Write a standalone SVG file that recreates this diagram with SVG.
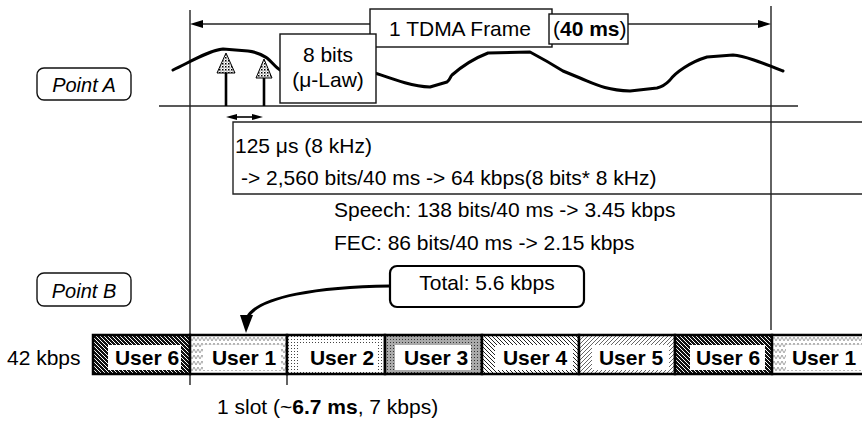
<svg xmlns="http://www.w3.org/2000/svg" width="862" height="421" viewBox="0 0 862 421">
<defs>
<style>
text{font-family:"Liberation Sans",Arial,Helvetica,sans-serif;fill:#000}
.t{font-size:21px}
.ti{font-size:20px;font-style:italic}
.tb{font-size:21px;font-weight:bold}
.ln{stroke:#222;stroke-width:1.4;fill:none}
.box{fill:#fff;stroke:#111;stroke-width:1.4}
.rbox{fill:#fff;stroke:#111;stroke-width:1.4}
.wave{fill:none;stroke:#000;stroke-width:3;stroke-linejoin:round;stroke-linecap:round}
.slot{stroke:#000;stroke-width:2.5}
.inner{fill:#fff;stroke:none}
</style>
<pattern id="pdot" width="3" height="3" patternUnits="userSpaceOnUse"><rect width="3" height="3" fill="#fff"/><rect width="1.5" height="1.5" fill="#000"/><rect x="1.5" y="1.5" width="1" height="1" fill="#555"/></pattern>
<pattern id="p6" width="4" height="4" patternUnits="userSpaceOnUse"><rect width="4" height="4" fill="#111"/><path d="M-1,-1 L5,5" stroke="#fff" stroke-width="1"/></pattern>
<pattern id="p1" width="8" height="6" patternUnits="userSpaceOnUse"><rect width="8" height="6" fill="#fff"/><polyline points="0,5 2,1 4,5 6,1 8,5" fill="none" stroke="#999" stroke-width="0.9"/></pattern>
<pattern id="p2" width="3" height="3" patternUnits="userSpaceOnUse"><rect width="3" height="3" fill="#fff"/><rect width="1" height="1" fill="#444"/></pattern>
<pattern id="p3" width="3" height="3" patternUnits="userSpaceOnUse"><rect width="3" height="3" fill="#aaa"/><rect width="1" height="1" fill="#333"/></pattern>
<pattern id="p4" width="4" height="4" patternUnits="userSpaceOnUse"><rect width="4" height="4" fill="#fff"/><path d="M-1,-1 L5,5 M3,-1 L5,1 M-1,3 L1,5" stroke="#222" stroke-width="1"/></pattern>
<pattern id="p5" width="4" height="4" patternUnits="userSpaceOnUse"><rect width="4" height="4" fill="#fff"/><path d="M-1,5 L5,-1 M-1,1 L1,-1 M3,5 L5,3" stroke="#666" stroke-width="1"/></pattern>
</defs>

<g id="connectors">
  <!-- vertical frame boundaries -->
  <line class="ln" x1="190" y1="10" x2="190" y2="385"/>
  <line class="ln" x1="771" y1="6" x2="771" y2="330"/>
  <line class="ln" x1="287" y1="374" x2="287" y2="385"/>
  <!-- baselines -->
  <line class="ln" x1="159" y1="106" x2="798" y2="106"/>
  <!-- frame arrow -->
  <line class="ln" x1="196" y1="24" x2="765" y2="24"/>
  <polygon points="190,24 203,20 203,28" fill="#000"/>
  <polygon points="771,24 758,20 758,28" fill="#000"/>
  <!-- waveform -->
  <path class="wave" d="M173,70 C190,62 210,50 223,49 L248,51 C258,52 262,55 267,58 C272,62 276,68 280,70"/>
  <path class="wave" d="M372,72 C390,78 410,86 430,87 L447,82 C450,80 450,77 452,75 C460,68 470,60 488,53 L530,52 C545,60 555,66 563,71 L580,78 C595,84 605,90 630,91 L657,88 C665,86 668,82 670,80 C675,73 690,62 707,57 L733,55 C745,56 760,62 783,71"/>
  <!-- sample arrows -->
  <line x1="226" y1="72" x2="226" y2="106" stroke="#000" stroke-width="2.6"/>
  <polygon points="226,53 217,73 235,73" fill="url(#pdot)" stroke="#000" stroke-width="1"/>
  <line x1="264" y1="77" x2="264" y2="106" stroke="#000" stroke-width="2.6"/>
  <polygon points="264,59 256,78 272,78" fill="url(#pdot)" stroke="#000" stroke-width="1"/>
  <!-- sample period double arrow -->
  <line x1="232" y1="117" x2="257" y2="117" stroke="#000" stroke-width="1.6"/>
  <polygon points="226,117 237,114 237,120" fill="#000"/>
  <polygon points="263,117 252,114 252,120" fill="#000"/>
  <!-- total curved arrow -->
  <path d="M390,286 C320,287 258,296 247,318" fill="none" stroke="#000" stroke-width="3"/>
  <polygon points="246,333 240,315 253,315" fill="#000"/>
</g>

<g id="frame-label">
  <rect class="box" x="370" y="9" width="182" height="38"/>
  <text class="t" x="389" y="36">1 TDMA Frame</text>
  <rect class="box" x="549" y="14" width="79" height="30"/>
  <text class="t" x="553" y="36">(<tspan font-weight="bold">40 ms</tspan>)</text>
</g>

<g id="bits-box">
  <rect class="box" x="280" y="34" width="96" height="69"/>
  <text class="t" x="328" y="62" text-anchor="middle">8 bits</text>
  <text class="t" x="328" y="87" text-anchor="middle">(μ-Law)</text>
</g>

<g id="point-a">
  <rect class="rbox" x="37" y="68" width="94" height="32" rx="7"/>
  <text class="ti" x="84" y="92" text-anchor="middle">Point A</text>
</g>

<g id="rate-box">
  <path class="ln" d="M862,122 L233,122 L233,194 L862,194"/>
  <text class="t" x="235" y="153">125 μs (8 kHz)</text>
  <text class="t" x="241" y="185">-&gt; 2,560 bits/40 ms -&gt; 64 kbps(8 bits* 8 kHz)</text>
</g>

<g id="speech">
  <text class="t" x="334" y="217">Speech: 138 bits/40 ms -&gt; 3.45 kbps</text>
</g>
<g id="fec">
  <text class="t" x="334" y="250">FEC: 86 bits/40 ms -&gt; 2.15 kbps</text>
</g>

<g id="point-b">
  <rect class="rbox" x="37" y="273" width="94" height="33" rx="7"/>
  <text class="ti" x="84" y="298" text-anchor="middle">Point B</text>
</g>

<g id="total">
  <rect x="390" y="266" width="194" height="41" rx="7" fill="#fff" stroke="#000" stroke-width="2.2"/>
  <text class="t" x="487" y="290" text-anchor="middle">Total: 5.6 kbps</text>
</g>

<g id="rate-label">
  <text class="t" x="7" y="365">42 kbps</text>
</g>

<g id="slot-u6a">
  <rect class="slot" x="93" y="335" width="97" height="39" fill="url(#p6)"/>
  <rect class="inner" x="108" y="345" width="73" height="25"/>
  <text class="tb" x="147" y="365" text-anchor="middle">User 6</text>
</g>
<g id="slot-u1a">
  <rect class="slot" x="190" y="335" width="97" height="39" fill="url(#p1)"/>
  <rect class="inner" x="203" y="345" width="78" height="25"/>
  <text class="tb" x="244" y="365" text-anchor="middle">User 1</text>
</g>
<g id="slot-u2">
  <rect class="slot" x="287" y="335" width="98" height="39" fill="url(#p2)"/>
  <rect class="inner" x="300" y="345" width="78" height="25"/>
  <text class="tb" x="342" y="365" text-anchor="middle">User 2</text>
</g>
<g id="slot-u3">
  <rect class="slot" x="385" y="335" width="97" height="39" fill="url(#p3)"/>
  <rect class="inner" x="395" y="345" width="76" height="25"/>
  <text class="tb" x="436" y="365" text-anchor="middle">User 3</text>
</g>
<g id="slot-u4">
  <rect class="slot" x="482" y="335" width="97" height="39" fill="url(#p4)"/>
  <rect class="inner" x="495" y="345" width="78" height="25"/>
  <text class="tb" x="535" y="365" text-anchor="middle">User 4</text>
</g>
<g id="slot-u5">
  <rect class="slot" x="579" y="335" width="96" height="39" fill="url(#p5)"/>
  <rect class="inner" x="592" y="345" width="77" height="25"/>
  <text class="tb" x="631" y="365" text-anchor="middle">User 5</text>
</g>
<g id="slot-u6b">
  <rect class="slot" x="675" y="335" width="97" height="39" fill="url(#p6)"/>
  <rect class="inner" x="690" y="345" width="75" height="25"/>
  <text class="tb" x="728" y="365" text-anchor="middle">User 6</text>
</g>
<g id="slot-u1b">
  <rect class="slot" x="772" y="335" width="100" height="39" fill="url(#p1)"/>
  <rect class="inner" x="786" y="345" width="76" height="25"/>
  <text class="tb" x="824" y="365" text-anchor="middle">User 1</text>
</g>

<g id="slot-label">
  <text class="t" x="217" y="414">1 slot (~<tspan font-weight="bold">6.7 ms</tspan>, 7 kbps)</text>
</g>
</svg>
